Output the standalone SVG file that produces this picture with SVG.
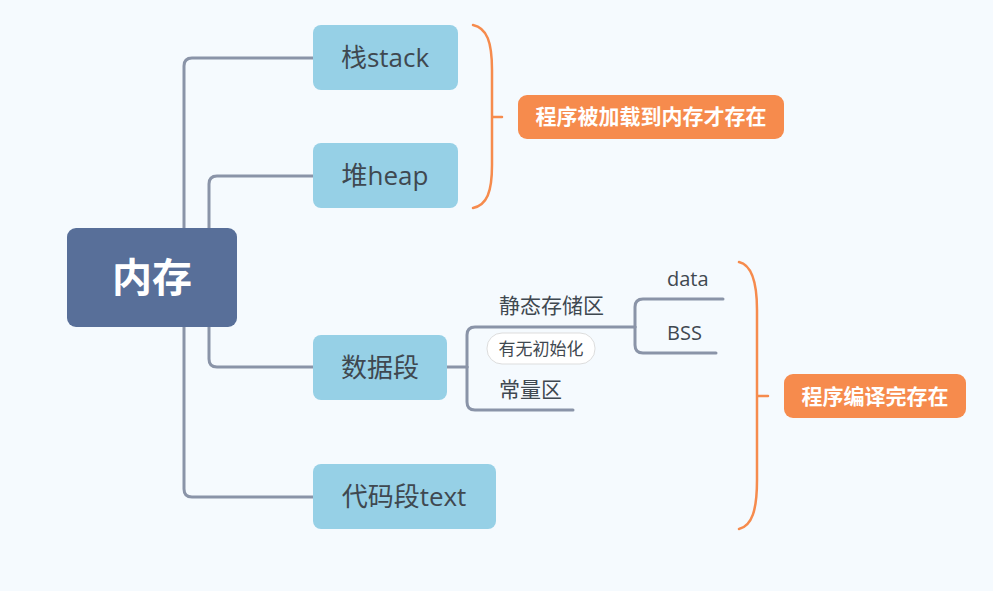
<svg xmlns="http://www.w3.org/2000/svg" width="993" height="591" viewBox="0 0 993 591">
<style>
.bg{fill:#F5FAFE}
.conn{fill:none;stroke:#8A94A8;stroke-width:3;stroke-linecap:round;stroke-linejoin:round}
.brace{fill:none;stroke:#F68B4D;stroke-width:2.5;stroke-linecap:round}
.node{fill:#96D0E6}
.root{fill:#586F99}
.lbl{fill:#F68B4D}
.t{font-family:"Open Sans","Noto Sans CJK SC",sans-serif;fill:#3F4850}
.nt{font-size:26px;text-anchor:middle}
.st{font-size:20px}
.cn{font-size:21px}
.wt{font-family:"Noto Sans CJK SC",sans-serif;fill:#fff;font-weight:bold;text-anchor:middle}
.pill{fill:#fff;stroke:#DDDDDD;stroke-width:1}
</style>
<rect class="bg" x="0" y="0" width="993" height="591"/>
<g id="connectors">
  <path class="conn" d="M184,228 L184,66 Q184,58 192,58 L313,58"/>
  <path class="conn" d="M209,228 L209,184 Q209,176 217,176 L313,176"/>
  <path class="conn" d="M209,327 L209,359 Q209,367 217,367 L313,367"/>
  <path class="conn" d="M184,327 L184,489 Q184,497 192,497 L313,497"/>
  <path class="conn" d="M447,367 L467,367"/>
  <path class="conn" d="M467,367 L467,335 Q467,327 475,327 L635,327"/>
  <path class="conn" d="M467,367 L467,402 Q467,410 475,410 L573,410"/>
  <path class="conn" d="M635,327 L635,307 Q635,299 643,299 L723,299"/>
  <path class="conn" d="M635,327 L635,345 Q635,353 643,353 L716,353"/>
  <path class="brace" d="M473,25 C487,28 492,42 492,70 L492,165 C492,192 487,205 473,208 M492,117 L502,117"/>
  <path class="brace" d="M739,262 C752,265 757,282 757,310 L757,480 C757,510 752,526 739,529 M757,396 L768,396"/>
</g>
<g id="root">
  <rect class="root" x="67" y="228" width="170" height="99" rx="9"/>
  <text class="wt" x="152" y="292" font-size="40">内存</text>
</g>
<g id="stack">
  <rect class="node" x="313" y="25" width="145" height="65" rx="8"/>
  <text class="t nt" x="385" y="67">栈stack</text>
</g>
<g id="heap">
  <rect class="node" x="313" y="143" width="145" height="65" rx="8"/>
  <text class="t nt" x="385" y="185">堆heap</text>
</g>
<g id="data-seg">
  <rect class="node" x="313" y="335" width="134" height="65" rx="8"/>
  <text class="t nt" x="380" y="377">数据段</text>
</g>
<g id="code-seg">
  <rect class="node" x="313" y="464" width="183" height="65" rx="8"/>
  <text class="t nt" x="404" y="506">代码段text</text>
</g>
<g id="static">
  <text class="t cn" x="499" y="313">静态存储区</text>
</g>
<g id="init-label">
  <rect class="pill" x="487" y="333" width="108" height="31" rx="15"/>
  <text class="t" x="541" y="355" font-size="17" text-anchor="middle" fill="#666">有无初始化</text>
</g>
<g id="const">
  <text class="t cn" x="499" y="397">常量区</text>
</g>
<g id="data">
  <text class="t st" x="667" y="286">data</text>
</g>
<g id="bss">
  <text class="t st" x="667" y="340">BSS</text>
</g>
<g id="label-runtime">
  <rect class="lbl" x="518" y="95" width="266" height="44" rx="9"/>
  <text class="wt" x="651" y="124" font-size="21">程序被加载到内存才存在</text>
</g>
<g id="label-compile">
  <rect class="lbl" x="784" y="374" width="182" height="44" rx="9"/>
  <text class="wt" x="875" y="404" font-size="21">程序编译完存在</text>
</g>
</svg>
